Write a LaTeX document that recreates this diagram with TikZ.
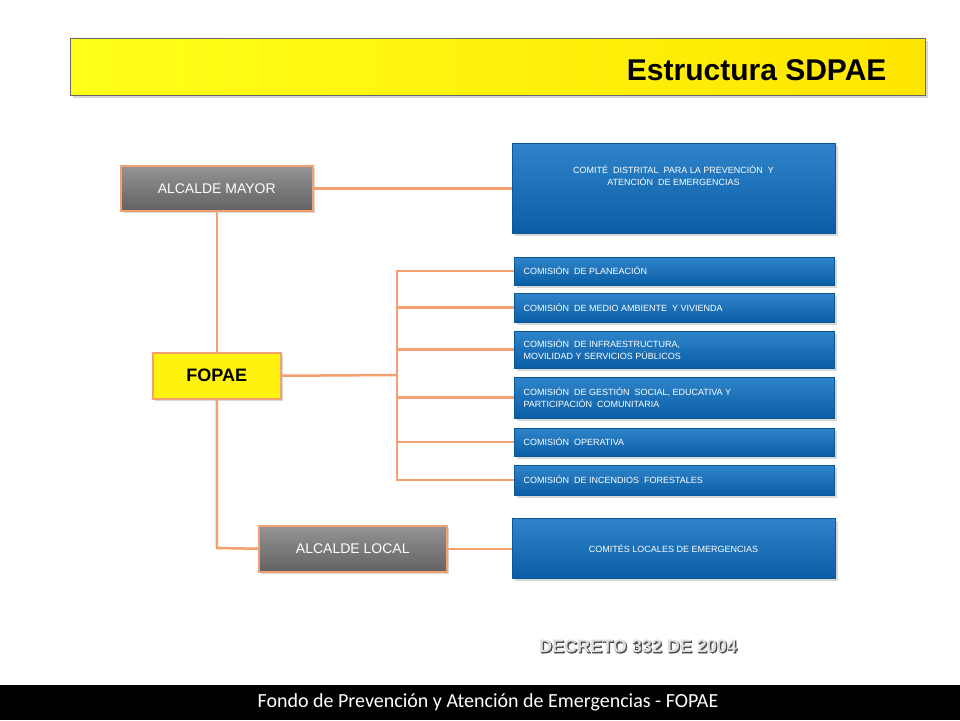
\documentclass[tikz,border=0pt]{standalone}
\usepackage{fontspec}
\setmainfont{Liberation Sans}
\newfontfamily\calib{Carlito}
\usetikzlibrary{shadows}
\definecolor{conn}{HTML}{F4A070}
\definecolor{bluebox}{HTML}{0B6EC1}
\definecolor{graybox}{HTML}{7A7A7A}
\tikzset{
  conline/.style={conn,line width=2.5pt},
  bluebox/.style={draw=bluebox!80!black,top color=bluebox!85!white,bottom color=bluebox!85!black,drop shadow={opacity=0.3},text=white,inner sep=0pt,font=\fontsize{9}{11}\selectfont},
  graybx/.style={draw=conn,line width=1.5pt,top color=graybox!80!white,bottom color=graybox!80!black,drop shadow={opacity=0.3},text=white,font=\fontsize{14}{16}\selectfont,inner sep=0pt},
}
\begin{document}
\begin{tikzpicture}[x=1pt,y=-1pt]
\useasboundingbox (0,0) rectangle (960,720);
\fill[white] (0,0) rectangle (960,720);
% title
\node[draw=black!60,line width=1pt,left color=yellow!90!white,right color=yellow!80!orange,minimum width=855pt,minimum height=57pt,inner sep=0pt,anchor=north west,drop shadow={opacity=0.3}] (title) at (70,38) {};
\node[anchor=east,font=\bfseries\fontsize{30}{34}\selectfont] (titletext) at (890,70) {Estructura SDPAE};
% boxes
\node[graybx,minimum width=192pt,minimum height=45pt,anchor=north west] (am) at (120,165) {ALCALDE MAYOR};
\node[draw=conn,line width=1.5pt,fill=yellow!95!white,drop shadow={opacity=0.3},minimum width=128pt,minimum height=46pt,anchor=north west,font=\bfseries\fontsize{18}{20}\selectfont,inner sep=0pt] (fo) at (152,352) {FOPAE};
\node[graybx,minimum width=188pt,minimum height=46pt,anchor=north west] (al) at (258,525) {ALCALDE LOCAL};
% blue boxes
\node[bluebox,minimum width=323pt,minimum height=90pt,anchor=north west] (cd) at (512,143) {};
\node[text=white,font=\fontsize{9}{12}\selectfont,align=center,anchor=north] (cdt) at (673.5,162) {COMITÉ\ \ DISTRITAL\ \ PARA LA PREVENCIÒN\ \ Y\\ATENCIÓN\ \ DE EMERGENCIAS};
\foreach \n/\ya/\yb/\t in {c1/257/285/{COMISIÓN\ \ DE PLANEACIÓN},
  c2/293/322/{COMISIÓN\ \ DE MEDIO AMBIENTE\ \ Y VIVIENDA},
  c3/331/368/{COMISIÓN\ \ DE INFRAESTRUCTURA,\\MOVILIDAD Y SERVICIOS PÚBLICOS},
  c4/377/418/{COMISIÓN\ \ DE GESTIÓN\ \ SOCIAL, EDUCATIVA Y\\PARTICIPACIÓN\ \ COMUNITARIA},
  c5/428/456/{COMISIÓN\ \ OPERATIVA},
  c6/465/495/{COMISIÓN\ \ DE INCENDIOS\ \ FORESTALES}}{
  \node[bluebox,minimum width=320pt,minimum height={(\yb-\ya)*1pt},anchor=north west] (\n) at (514,\ya) {};
  \node[text=white,font=\fontsize{9}{12}\selectfont,align=left,anchor=west] (\n t) at (520,{(\ya+\yb)/2}) {\t};
}
\node[bluebox,minimum width=323pt,minimum height=60pt,anchor=north west] (cl) at (512,518) {};
\node[text=white,font=\fontsize{9}{11}\selectfont,anchor=north] (clt) at (673.5,541) {COMITÉS LOCALES DE EMERGENCIAS};
% connectors
\coordinate (j1) at (217,548);
\coordinate (jb) at (397,375);
\draw[conline] (am.east) -- (cd.west|-am.east);
\draw[conline] (am.south) -- (fo.north);
\draw[conline] (fo.south) -- (j1) -- (al.west);
\draw[conline] (al.east) -- (cl.west|-al.east);
\draw[conline] (fo.east) -- (jb);
\draw[conline] (c1.west) -| (jb);
\draw[conline] (c6.west) -| (jb);
\foreach \n in {c2,c3,c4,c5} \draw[conline] (c1.west-|jb) |- (\n.west);
\node[font=\bfseries\fontsize{18}{20}\selectfont,text=gray!70,draw=black!70,line width=0.3pt] at (638,646) {};
\node[font=\bfseries\fontsize{18}{20}\selectfont] (dec) at (639,647) {\addfontfeature{FakeBold=2}\textcolor{black!70}{DECRETO 332 DE 2004}};
\node[font=\bfseries\fontsize{18}{20}\selectfont,text=gray!25] (dec2) at (638,646) {DECRETO 332 DE 2004};
% footer
\fill[black] (0,685) rectangle (960,720);
\node[text=white,font=\calib\fontsize{20}{24}\selectfont] (foot) at (488,702) {Fondo de Prevención y Atención de Emergencias - FOPAE};
\end{tikzpicture}
\end{document}
